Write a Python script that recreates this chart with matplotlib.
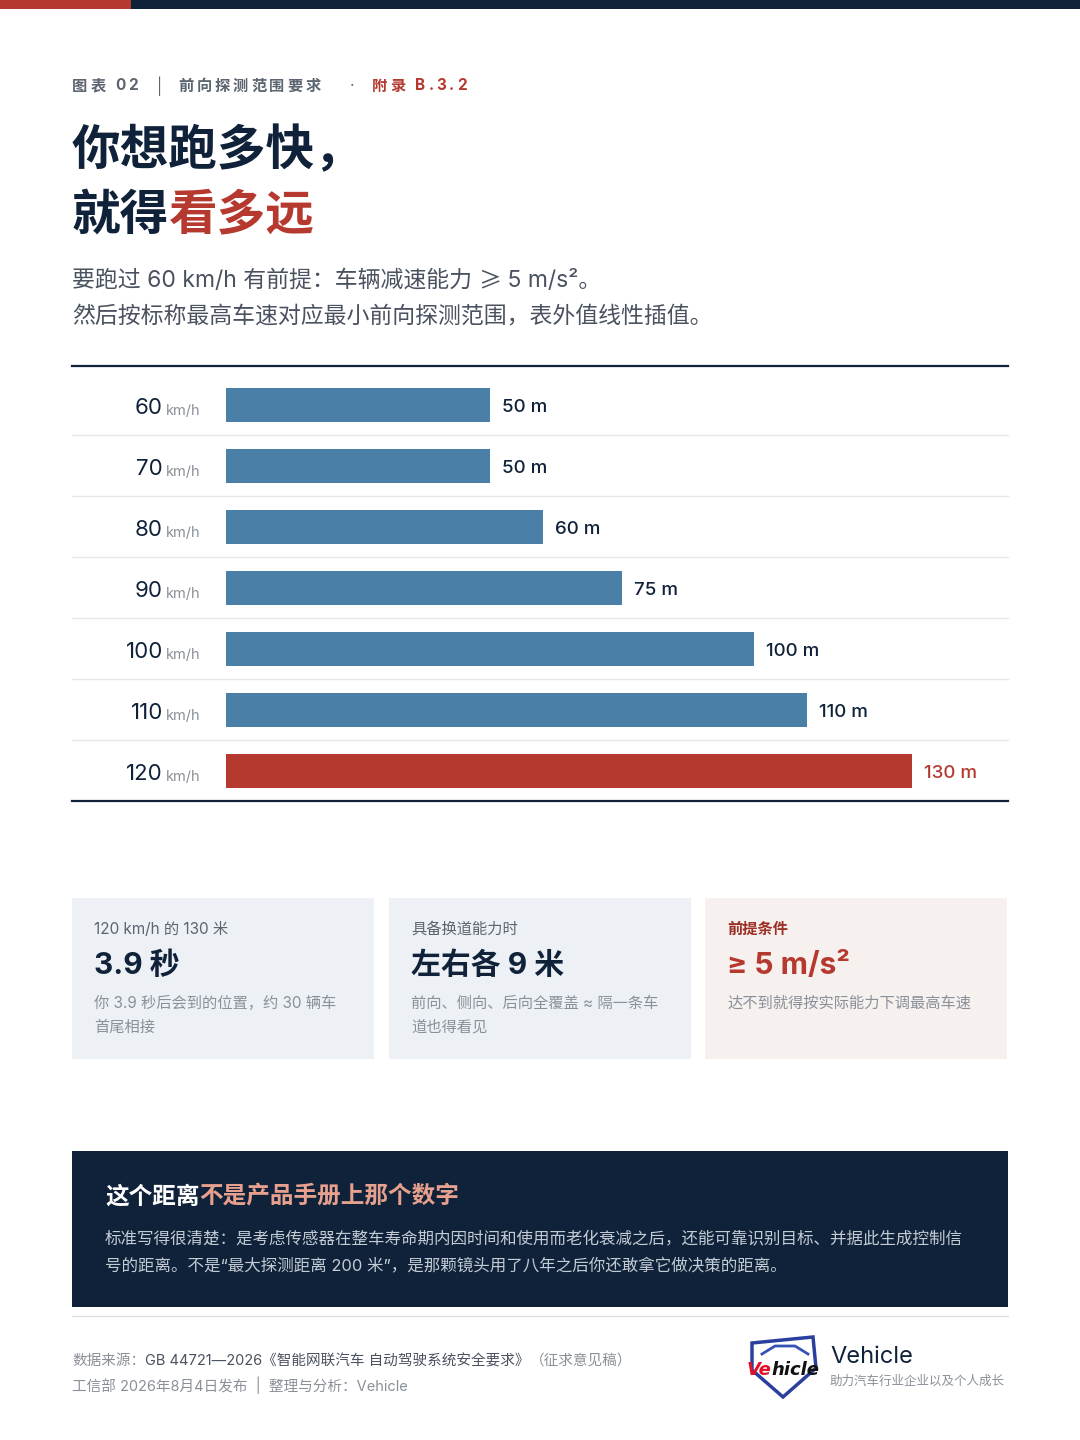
import matplotlib
matplotlib.use("Agg")
import matplotlib.pyplot as plt
import matplotlib.transforms as mtransforms
from matplotlib.patches import Rectangle, Polygon

plt.rcParams['font.family'] = ['Inter', 'Noto Sans CJK SC', 'DejaVu Sans']

# ---------- data ----------
speeds = [60, 70, 80, 90, 100, 110, 120]
ranges_m = [50, 50, 60, 75, 100, 110, 130]
highlight = [False, False, False, False, False, False, True]

card_labels = ["120 km/h 的 130 米", "具备换道能力时", "前提条件"]
card_values = ["3.9 秒", "左右各 9 米", "≥ 5 m/s²"]
card_notes = [["你 3.9 秒后会到的位置，约 30 辆车", "首尾相接"],
              ["前向、侧向、后向全覆盖 ≈ 隔一条车", "道也得看见"],
              ["达不到就得按实际能力下调最高车速"]]

# ---------- colours ----------
NAVY = "#0f2239"
RED = "#b5392f"
BLUE = "#4a7fa7"
GRAY = "#5c6470"
LIGHT = "#8a9099"
CJK = ['Noto Sans CJK SC', 'DejaVu Sans']

fig = plt.figure(figsize=(10.8, 14.4), dpi=100)
ax0 = fig.add_axes([0, 0, 1, 1])
ax0.set_xlim(0, 1080)
ax0.set_ylim(1440, 0)
ax0.axis("off")
r = fig.canvas.get_renderer()


def spaced(x, y, s, gap, **kw):
    for ch in s:
        t = ax0.text(x, y, ch, va="center", ha="left", **kw)
        x += t.get_window_extent(r).width + gap
    return x


# top strip
ax0.add_patch(Rectangle((0, 0), 131, 9, color=RED, lw=0))
ax0.add_patch(Rectangle((131, 0), 949, 9, color=NAVY, lw=0))

# kicker line
spaced(72, 86, "图表 02", 3.0, fontsize=11, color=GRAY, fontweight="bold")
ax0.text(160, 86, "|", fontsize=11, color=GRAY, va="center", ha="center")
spaced(178, 86, "前向探测范围要求", 3.0, fontsize=11, color=GRAY, fontweight="bold")
ax0.text(352, 86, "·", fontsize=11, color=GRAY, va="center", ha="center")
spaced(372, 86, "附录 B.3.2", 3.0, fontsize=11, color=RED, fontweight="bold")

# title
ax0.text(72, 151, "你想跑多快，", fontsize=35, fontweight="bold", color=NAVY, va="center",
         family=CJK)
t = ax0.text(72, 215, "就得", fontsize=35, fontweight="bold", color=NAVY, va="center",
             family=CJK)
w = t.get_window_extent(r).width
ax0.text(72 + w, 215, "看多远", fontsize=35, fontweight="bold", color=RED, va="center",
         family=CJK)

# subtitle
t = ax0.text(72, 281, "要跑过 60 km/h 有前提：车辆减速能力 ", fontsize=16.5,
             color="#4a5260", va="center")
w = t.get_window_extent(r).width
t = ax0.text(72 + w, 281, "≥", fontsize=16.5, color="#4a5260", va="center", family=CJK)
w += t.get_window_extent(r).width
ax0.text(72 + w, 281, " 5 m/s²。", fontsize=16.5, color="#4a5260", va="center")
ax0.text(72, 317, "然后按标称最高车速对应最小前向探测范围，表外值线性插值。", fontsize=16.5,
         color="#4a5260", va="center")

# ---------- bar chart ----------
px_per_m = 5.28
axb = fig.add_axes([226 / 1080, 1 - 801 / 1440, 782 / 1080, 427 / 1440])
axb.patch.set_alpha(0)
axb.set_xlim(0, 782 / px_per_m)
axb.set_ylim(len(speeds) - 0.5, -0.5)
axb.axis("off")

pos = list(range(len(speeds)))
cols = [RED if h else BLUE for h in highlight]
axb.barh(pos, ranges_m, height=34 / 61, color=cols, zorder=3)

blend = mtransforms.blended_transform_factory(ax0.transData, axb.transData)
for i, (s, v, h) in enumerate(zip(speeds, ranges_m, highlight)):
    axb.text(163, i + 0.05, str(s), transform=blend, ha="right", va="center",
             fontsize=16, color=NAVY)
    axb.text(166, i + 0.1, "km/h", transform=blend, ha="left", va="center",
             fontsize=10.5, color=LIGHT)
    axb.annotate(f"{v} m", (v, i), xytext=(12, -3), textcoords="offset pixels",
                 ha="left", va="center", fontsize=13.5, fontweight="medium",
                 color=RED if h else NAVY)
    if i > 0:
        axb.plot([72, 1008], [i - 0.5, i - 0.5], transform=blend, color="#e4e7eb",
                 lw=1, clip_on=False, zorder=1)

ax0.plot([72, 1008], [366, 366], color=NAVY, lw=1.6)
axb.plot([72, 1008], [len(speeds) - 0.5, len(speeds) - 0.5], transform=blend,
         color=NAVY, lw=1.6, clip_on=False)

# ---------- cards ----------
card_x = [72, 389, 705]
card_w = 302
for k in range(3):
    cx = card_x[k]
    warm = k == 2
    ax0.add_patch(Rectangle((cx, 898), card_w, 161,
                            color="#f6f0ee" if warm else "#edf1f5", lw=0))
    ax0.text(cx + 22, 929, card_labels[k], fontsize=11,
             color="#9c2f25" if warm else GRAY,
             fontweight="bold" if warm else "normal", va="center")
    ax0.text(cx + 22, 966, card_values[k], fontsize=21.5, fontweight="bold",
             color=RED if warm else NAVY, va="center")
    for j, line in enumerate(card_notes[k]):
        ax0.text(cx + 22, 1003 + 24 * j, line, fontsize=11, color=LIGHT, va="center")

# ---------- dark box ----------
ax0.add_patch(Rectangle((72, 1151), 936, 156, color=NAVY, lw=0))
t = ax0.text(105, 1197, "这个距离", fontsize=17, fontweight="bold", color="white", va="center")
w = t.get_window_extent(r).width
ax0.text(105 + w, 1197, "不是产品手册上那个数字", fontsize=17, fontweight="bold",
         color="#e8a08e", va="center")
ax0.text(105, 1239, "标准写得很清楚：是考虑传感器在整车寿命期内因时间和使用而老化衰减之后，还能可靠识别目标、并据此生成控制信",
         fontsize=11.9, color="#c3cbd5", va="center")
ax0.text(105, 1266, "号的距离。不是“最大探测距离 200 米”，是那颗镜头用了八年之后你还敢拿它做决策的距离。",
         fontsize=11.9, color="#c3cbd5", va="center")

# ---------- footer ----------
ax0.plot([72, 1008], [1316, 1316], color="#dcdfe3", lw=1)
t = ax0.text(72, 1361, "数据来源：", fontsize=10.5, color=LIGHT, va="center")
w = t.get_window_extent(r).width
t2 = ax0.text(72 + w, 1361, "GB 44721—2026《智能网联汽车 自动驾驶系统安全要求》",
              fontsize=10.5, color="#4a5260", va="center")
w2 = t2.get_window_extent(r).width
ax0.text(72 + w + w2, 1361, "（征求意见稿）", fontsize=10.5, color=LIGHT, va="center")
ax0.text(72, 1385, "工信部 2026年8月4日发布  |  整理与分析：Vehicle", fontsize=10.5,
         color=LIGHT, va="center")

# logo
shield = Polygon([[752, 1343], [813, 1337], [816, 1368], [783, 1397], [752, 1370]],
                 closed=True, facecolor="white", edgecolor="#2b3f9e", lw=2.5)
ax0.add_patch(shield)
ax0.plot([762, 775, 795, 808], [1354, 1346, 1346, 1354], color="#3552b5", lw=2)
t = ax0.text(747, 1370, "Ve", fontsize=13, fontweight="bold", style="italic",
             color="#e0112b", va="center", family="DejaVu Sans")
w = t.get_window_extent(r).width
ax0.text(747 + w, 1370, "hicle", fontsize=13, fontweight="bold", style="italic",
         color="#111111", va="center", family="DejaVu Sans")
ax0.text(830, 1357, "Vehicle", fontsize=17, color=NAVY, va="center")
ax0.text(830, 1382, "助力汽车行业企业以及个人成长", fontsize=9, color=LIGHT, va="center")

fig.savefig("out.png", dpi=100)
